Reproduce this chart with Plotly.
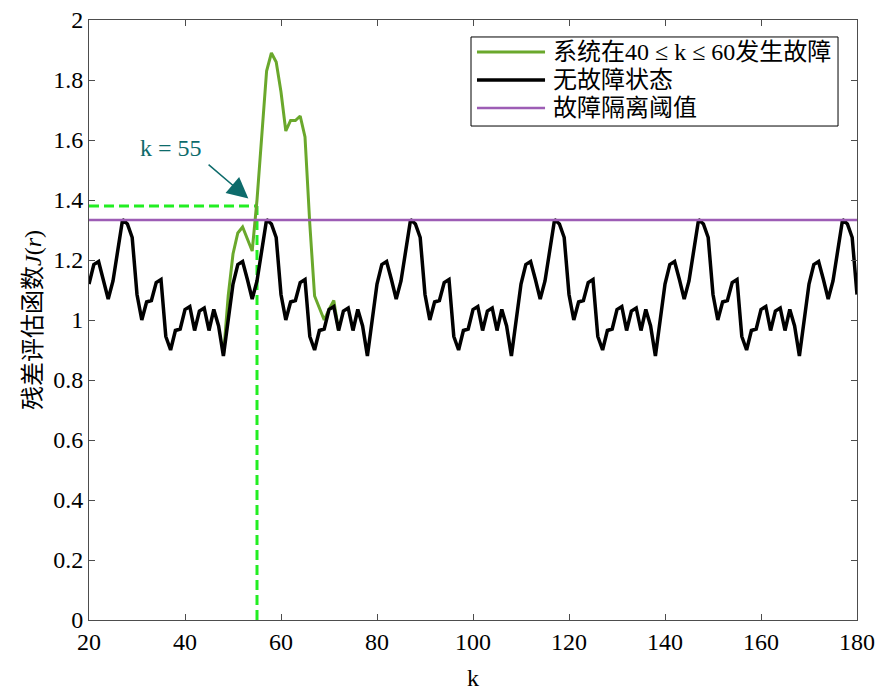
import plotly.graph_objects as go

# ---------------- data ----------------
k_normal = list(range(20, 181))
J_normal = [
    # k = 20 .. 49
    1.12, 1.185, 1.195, 1.135, 1.07, 1.13, 1.23, 1.335, 1.32, 1.275,
    1.085, 1.00, 1.06, 1.065, 1.125, 1.135, 0.945, 0.90, 0.965, 0.97,
    1.035, 1.045, 0.965, 1.03, 1.04, 0.965, 1.035, 0.98, 0.88, 1.00,
    # k = 50 .. 79
    1.12, 1.185, 1.195, 1.135, 1.07, 1.13, 1.23, 1.335, 1.32, 1.275,
    1.085, 1.00, 1.06, 1.065, 1.125, 1.135, 0.945, 0.90, 0.965, 0.97,
    1.035, 1.045, 0.965, 1.03, 1.04, 0.965, 1.035, 0.98, 0.88, 1.00,
    # k = 80 .. 109
    1.12, 1.185, 1.195, 1.135, 1.07, 1.13, 1.23, 1.335, 1.32, 1.275,
    1.085, 1.00, 1.06, 1.065, 1.125, 1.135, 0.945, 0.90, 0.965, 0.97,
    1.035, 1.045, 0.965, 1.03, 1.04, 0.965, 1.035, 0.98, 0.88, 1.00,
    # k = 110 .. 139
    1.12, 1.185, 1.195, 1.135, 1.07, 1.13, 1.23, 1.335, 1.32, 1.275,
    1.085, 1.00, 1.06, 1.065, 1.125, 1.135, 0.945, 0.90, 0.965, 0.97,
    1.035, 1.045, 0.965, 1.03, 1.04, 0.965, 1.035, 0.98, 0.88, 1.00,
    # k = 140 .. 169
    1.12, 1.185, 1.195, 1.135, 1.07, 1.13, 1.23, 1.335, 1.32, 1.275,
    1.085, 1.00, 1.06, 1.065, 1.125, 1.135, 0.945, 0.90, 0.965, 0.97,
    1.035, 1.045, 0.965, 1.03, 1.04, 0.965, 1.035, 0.98, 0.88, 1.00,
    # k = 170 .. 180
    1.12, 1.185, 1.195, 1.135, 1.07, 1.13, 1.23, 1.335, 1.32, 1.275,
    1.085,
]

k_fault = list(range(48, 73))
J_fault = [
    0.88, 1.08, 1.22, 1.29, 1.31, 1.27, 1.23, 1.40, 1.63, 1.83,
    1.89, 1.86, 1.76, 1.63, 1.665, 1.665, 1.68, 1.61, 1.32, 1.08,
    1.04, 1.00, 1.035, 1.065, 0.965,
]

threshold = 1.333
k_range = [20, 180]
detect_k = 55
detect_J = 1.38

names = ["系统在40 ≤ k ≤ 60发生故障", "无故障状态", "故障隔离阈值"]
x_ticks = [20, 40, 60, 80, 100, 120, 140, 160, 180]
y_ticks = [0, 0.2, 0.4, 0.6, 0.8, 1.0, 1.2, 1.4, 1.6, 1.8, 2.0]
y_ticktext = ["0", "0.2", "0.4", "0.6", "0.8", "1", "1.2", "1.4", "1.6", "1.8", "2"]

# ---------------- styles ----------------
FONT = "Liberation Serif, Noto Sans CJK SC, serif"
FS = 24
GREEN = "#6aa82c"
PURPLE = "#9d5db5"
DASH_GREEN = "#22ee22"
TEAL = "#0d6b6b"
colors = [GREEN, "black", PURPLE]
widths = [3, 3.5, 2.5]

fig = go.Figure()

# dashed guide lines
fig.add_trace(go.Scatter(
    x=[k_range[0], detect_k], y=[detect_J, detect_J], mode="lines",
    line=dict(color=DASH_GREEN, width=3, dash="10px,5px"),
    showlegend=False, hoverinfo="skip"))
fig.add_trace(go.Scatter(
    x=[detect_k, detect_k], y=[0, detect_J], mode="lines",
    line=dict(color=DASH_GREEN, width=3, dash="10px,5px"),
    showlegend=False, hoverinfo="skip"))

fig.add_trace(go.Scatter(
    x=k_fault, y=J_fault, mode="lines", name=names[0],
    line=dict(color=colors[0], width=widths[0]), showlegend=False))
fig.add_trace(go.Scatter(
    x=k_normal, y=J_normal, mode="lines", name=names[1],
    line=dict(color=colors[1], width=widths[1]), showlegend=False))
fig.add_trace(go.Scatter(
    x=k_range, y=[threshold, threshold], mode="lines", name=names[2],
    line=dict(color=colors[2], width=widths[2]), showlegend=False))

# annotation text + arrow
fig.add_annotation(
    x=37.1, y=1.575, xref="x", yref="y", text="k = 55", showarrow=False,
    font=dict(family=FONT, size=FS, color=TEAL))
fig.add_annotation(
    x=53.2, y=1.405, ax=44.6, ay=1.522, xref="x", yref="y",
    axref="x", ayref="y", text="", showarrow=True,
    arrowhead=2, arrowsize=2.8, arrowwidth=1.5, arrowcolor=TEAL)

# legend box (drawn in paper coordinates)
lx0, lx1, ly0, ly1 = 0.4974, 0.9753, 0.8233, 0.9717
fig.add_shape(type="rect", xref="paper", yref="paper",
              x0=lx0, x1=lx1, y0=ly0, y1=ly1,
              line=dict(color="black", width=1), fillcolor="white", layer="above")
row_y = [0.9467, 0.9, 0.8533]
for name, c, w, ry in zip(names, colors, widths, row_y):
    fig.add_shape(type="line", xref="paper", yref="paper",
                  x0=0.5052, x1=0.5938, y0=ry, y1=ry,
                  line=dict(color=c, width=w), layer="above")
    fig.add_annotation(x=0.6016, y=ry, xref="paper", yref="paper",
                       text=name, showarrow=False, xanchor="left", yanchor="middle",
                       font=dict(family=FONT, size=FS, color="black"))

axis_common = dict(
    showline=True, linecolor="#4d4d4d", linewidth=1, mirror="ticks",
    ticks="inside", ticklen=6, tickcolor="#4d4d4d", tickwidth=1,
    showgrid=False, zeroline=False, automargin=False,
    tickfont=dict(family=FONT, size=FS, color="black"),
)

fig.update_xaxes(
    range=k_range, tickvals=x_ticks,
    title=dict(text="k", font=dict(family=FONT, size=FS, color="black"), standoff=18),
    **axis_common)
fig.update_yaxes(
    range=[0, 2], tickvals=y_ticks, ticktext=y_ticktext,
    title=dict(text="残差评估函数<i>J</i>(<i>r</i>)",
               font=dict(family=FONT, size=FS, color="black"), standoff=4),
    **axis_common)

fig.update_layout(
    width=876, height=691,
    margin=dict(l=89, r=19, t=20, b=71),
    plot_bgcolor="white", paper_bgcolor="white",
    font=dict(family=FONT, size=FS, color="black"),
    showlegend=False,
)

fig.write_html("out.html")
